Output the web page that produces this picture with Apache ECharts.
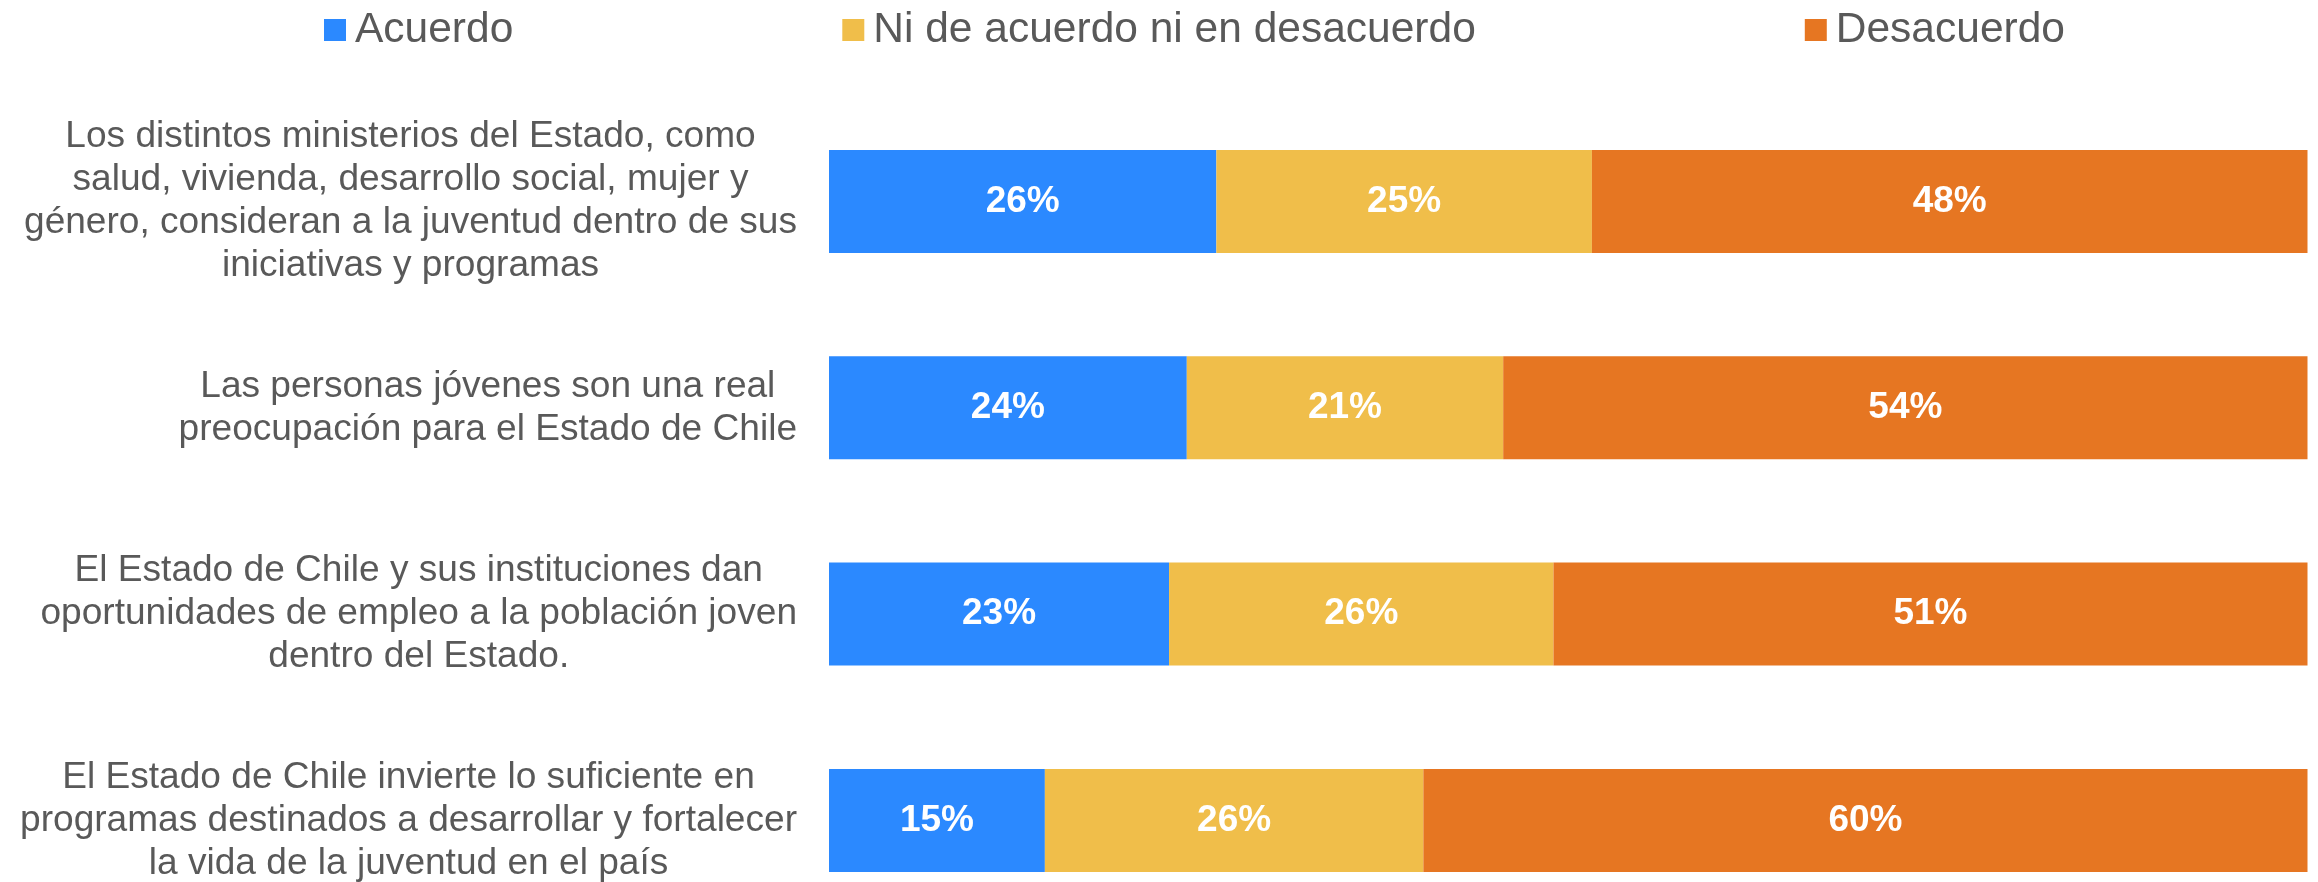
<!DOCTYPE html>
<html>
<head>
<meta charset="utf-8">
<script src="https://cdn.jsdelivr.net/npm/echarts@6/dist/echarts.min.js"></script>
<style>
html,body{margin:0;padding:0;background:#fff;overflow:hidden;width:2318px;height:882px;}
#chart{width:2318px;height:925px;}
</style>
</head>
<body>
<div id="chart"></div>
<script>
const categories = [
  "Los distintos ministerios del Estado, como\nsalud, vivienda, desarrollo social, mujer y\ngénero, consideran a la juventud dentro de sus\niniciativas y programas",
  "Las personas jóvenes son una real\npreocupación para el Estado de Chile",
  "El Estado de Chile y sus instituciones dan\noportunidades de empleo a la población joven\ndentro del Estado.",
  "El Estado de Chile invierte lo suficiente en\nprogramas destinados a desarrollar y fortalecer\nla vida de la juventud en el país"
];
const seriesNames = ["Acuerdo", "Ni de acuerdo ni en desacuerdo", "Desacuerdo"];
const acuerdo = [26.2, 24.2, 23.0, 14.6];
const neutral = [25.4, 21.4, 26.0, 25.6];
const desacuerdo = [48.4, 54.4, 51.0, 59.8];
const colors = ["#2B89FF", "#F0BE4A", "#E67622"];

const chart = echarts.init(document.getElementById('chart'), null, {renderer: 'canvas'});

function barSeries(name, data, color) {
  return {
    name: name,
    type: 'bar',
    stack: 'total',
    data: data,
    barWidth: 103,
    itemStyle: {color: color},
    label: {
      show: true,
      position: 'inside',
      color: '#ffffff',
      fontFamily: 'Liberation Sans, Arial, sans-serif',
      fontWeight: 'bold',
      fontSize: 37,
      formatter: p => Math.round(p.value) + '%'
    }
  };
}

chart.setOption({
  animation: false,
  backgroundColor: '#ffffff',
  color: colors,
  legend: {
    data: seriesNames,
    left: 319,
    top: 3,
    itemWidth: 22,
    itemHeight: 22,
    itemGap: 329,
    icon: 'rect',
    textStyle: {
      color: '#595959',
      fontFamily: 'Liberation Sans, Arial, sans-serif',
      fontSize: 42.5,
      lineHeight: 44,
      padding: [0, 0, 0, 4]
    }
  },
  grid: {
    left: 829,
    right: 10.5,
    top: 98.3,
    height: 825.3,
    containLabel: false
  },
  xAxis: {
    type: 'value',
    min: 0,
    max: 100,
    show: false
  },
  yAxis: {
    type: 'category',
    inverse: true,
    data: categories,
    axisLine: {show: false},
    axisTick: {show: false},
    splitLine: {show: false},
    axisLabel: {
      margin: 32,
      align: 'right',
      formatter: function (v) {
        return v.split('\n').map(l => '{c|' + l + '}').join('\n');
      },
      rich: {
        c: {
          align: 'center',
          color: '#595959',
          fontFamily: 'Liberation Sans, Arial, sans-serif',
          fontSize: 37.1,
          lineHeight: 43
        }
      }
    }
  },
  series: [
    barSeries(seriesNames[0], acuerdo, colors[0]),
    barSeries(seriesNames[1], neutral, colors[1]),
    barSeries(seriesNames[2], desacuerdo, colors[2])
  ]
});
</script>
</body>
</html>
